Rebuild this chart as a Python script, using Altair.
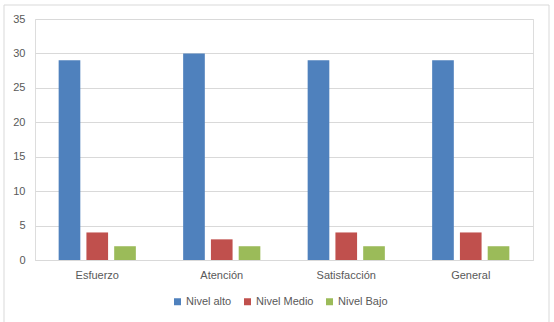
import altair as alt
import pandas as pd

categories = ["Esfuerzo", "Atención", "Satisfacción", "General"]
series = ["Nivel alto", "Nivel Medio", "Nivel Bajo"]
nivel_alto = [29, 30, 29, 29]
nivel_medio = [4, 3, 4, 4]
nivel_bajo = [2, 2, 2, 2]
colors = ["#4F81BD", "#C0504D", "#9BBB59"]

rows = []
for s, vals in zip(series, [nivel_alto, nivel_medio, nivel_bajo]):
    for c, v in zip(categories, vals):
        rows.append({"Categoria": c, "Serie": s, "Valor": v})
df = pd.DataFrame(rows)

FONT = "Liberation Sans"

bars = alt.Chart(df).mark_bar().encode(
    x=alt.X("Categoria:N", sort=categories, title=None,
            scale=alt.Scale(paddingInner=0.38, paddingOuter=0.19),
            axis=alt.Axis(labelAngle=0, ticks=False, domainColor="#D9D9D9",
                          labelColor="#595959", labelFont=FONT, labelFontSize=11,
                          labelPadding=9, grid=False)),
    xOffset=alt.XOffset("Serie:N", sort=series,
                        scale=alt.Scale(paddingInner=0.22, paddingOuter=0)),
    y=alt.Y("Valor:Q", title=None,
            scale=alt.Scale(domain=[0, 35], nice=False),
            axis=alt.Axis(values=[0, 5, 10, 15, 20, 25, 30, 35], ticks=False, domain=False,
                          gridColor="#D9D9D9", labelColor="#595959", labelFont=FONT,
                          labelFontSize=11, labelPadding=10)),
    color=alt.Color("Serie:N", sort=series,
                    scale=alt.Scale(domain=series, range=colors),
                    legend=alt.Legend(title=None, orient="none", direction="horizontal",
                                      legendX=137, legendY=277, padding=0,
                                      symbolType="square", symbolSize=49, symbolStrokeWidth=0,
                                      symbolOffset=0, labelOffset=3,
                                      labelColor="#595959", labelFont=FONT, labelFontSize=11,
                                      columnPadding=10)),
)

border = alt.Chart(pd.DataFrame({"a": [0]})).mark_rect(
    fill=None, stroke="#D9D9D9", strokeWidth=1
).encode(
    x=alt.value(-31), x2=alt.value(514), y=alt.value(-14), y2=alt.value(320)
)

chart = alt.layer(bars, border).properties(
    width=498, height=241,
    autosize=alt.AutoSizeParams(type="none"),
    padding={"left": 35, "top": 19, "right": 21, "bottom": 62},
).configure_view(stroke=None).configure(background="white")

chart.save("out.html", embed_options={"renderer": "svg", "actions": False})
